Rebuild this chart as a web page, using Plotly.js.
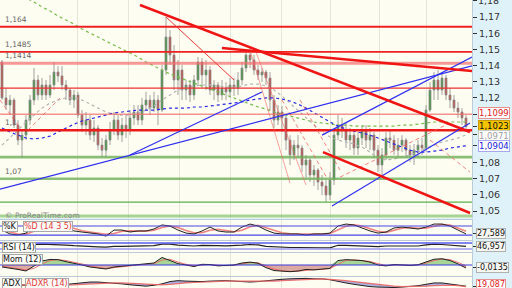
<!DOCTYPE html>
<html><head><meta charset="utf-8">
<script src="https://cdn.plot.ly/plotly-3.0.1.min.js"></script>
<style>html,body{margin:0;padding:0;background:#dff2fa;}#chart{width:512px;height:288px;}</style>
</head><body><div id="chart"></div>
<script>
// ---------- price candles (one per bar) ----------
const openP = [1.1422,1.1200,1.1156,1.1187,1.1032,1.0939,1.0970,1.1063,1.1187,1.1311,
1.1218,1.1280,1.1218,1.1280,1.1360,1.1336,1.1280,1.1249,1.1187,1.1218,
1.1094,1.1032,1.1063,1.0970,1.1014,1.0908,1.0877,1.0939,1.1001,1.1063,
1.0970,1.1032,1.1001,1.1076,1.1113,1.1063,1.1156,1.1187,1.1137,1.1187,
1.1125,1.1373,1.1577,1.1466,1.1311,1.1373,1.1249,1.1280,1.1218,1.1311,
1.1422,1.1342,1.1373,1.1249,1.1280,1.1218,1.1261,1.1237,1.1280,1.1261,
1.1311,1.1385,1.1466,1.1435,1.1373,1.1342,1.1360,1.1323,1.1187,1.1063,
1.1113,1.1076,1.0939,1.0847,1.0908,1.0890,1.0785,1.0816,1.0723,1.0754,
1.0679,1.0655,1.0599,1.0692,1.0970,1.1032,1.1001,1.0939,1.0970,1.0890,
1.0952,1.1001,1.0939,1.0970,1.0877,1.0785,1.0847,1.0952,1.0939,1.0877,
1.0908,1.0939,1.0877,1.0847,1.0877,1.0908,1.0890,1.1125,1.1249,1.1311,
1.1249,1.1323,1.1218,1.1187,1.1137,1.1113,1.1076];
const highP = [1.1435,1.1261,1.1218,1.1200,1.1063,1.1001,1.1094,1.1218,1.1385,1.1342,
1.1323,1.1311,1.1342,1.1422,1.1397,1.1397,1.1311,1.1261,1.1249,1.1237,
1.1125,1.1113,1.1094,1.1063,1.1032,1.0952,1.0970,1.1051,1.1113,1.1094,
1.1076,1.1094,1.1125,1.1156,1.1156,1.1200,1.1237,1.1218,1.1237,1.1218,
1.1404,1.1701,1.1620,1.1527,1.1435,1.1404,1.1311,1.1311,1.1342,1.1453,
1.1447,1.1435,1.1397,1.1311,1.1298,1.1311,1.1298,1.1323,1.1323,1.1360,
1.1422,1.1496,1.1509,1.1466,1.1404,1.1385,1.1373,1.1360,1.1218,1.1156,
1.1150,1.1094,1.0970,1.0939,1.0970,1.0908,1.0847,1.0828,1.0785,1.0766,
1.0723,1.0692,1.0741,1.1014,1.1094,1.1076,1.1051,1.1014,1.1001,1.0989,
1.1032,1.1032,1.1014,1.0989,1.0908,1.0890,1.0989,1.1001,1.0970,1.0952,
1.0970,1.0952,1.0908,1.0915,1.0939,1.0952,1.1156,1.1298,1.1360,1.1373,
1.1360,1.1342,1.1261,1.1218,1.1175,1.1137,1.1094];
const lowP = [1.1187,1.1125,1.1094,1.1014,1.0908,1.0828,1.0939,1.1032,1.1156,1.1187,
1.1187,1.1187,1.1200,1.1249,1.1298,1.1249,1.1187,1.1156,1.1137,1.1076,
1.0989,1.0970,1.0939,1.0927,1.0877,1.0834,1.0828,1.0908,1.0970,1.0939,
1.0927,1.0952,1.0970,1.1032,1.1032,1.1032,1.1125,1.1094,1.1113,1.1032,
1.1113,1.1342,1.1404,1.1249,1.1218,1.1187,1.1187,1.1175,1.1187,1.1280,
1.1261,1.1249,1.1218,1.1187,1.1175,1.1187,1.1187,1.1200,1.1212,1.1218,
1.1280,1.1360,1.1385,1.1342,1.1311,1.1298,1.1280,1.1125,1.1014,1.1032,
1.0989,1.0877,1.0785,1.0816,1.0828,1.0741,1.0704,1.0679,1.0655,1.0630,
1.0599,1.0556,1.0568,1.0661,1.0939,1.0952,1.0890,1.0877,1.0847,1.0847,
1.0908,1.0890,1.0877,1.0828,1.0741,1.0717,1.0816,1.0890,1.0847,1.0828,
1.0865,1.0828,1.0803,1.0785,1.0828,1.0847,1.0865,1.1113,1.1187,1.1187,
1.1218,1.1187,1.1137,1.1113,1.1076,1.1032,1.1001];
const closeP = [1.1200,1.1156,1.1187,1.1032,1.0939,1.0970,1.1063,1.1187,1.1311,1.1218,
1.1280,1.1218,1.1280,1.1360,1.1336,1.1280,1.1249,1.1187,1.1218,1.1094,
1.1032,1.1063,1.0970,1.1014,1.0908,1.0877,1.0939,1.1001,1.1063,1.0970,
1.1032,1.1001,1.1076,1.1113,1.1063,1.1156,1.1187,1.1137,1.1187,1.1125,
1.1373,1.1577,1.1466,1.1311,1.1373,1.1249,1.1280,1.1218,1.1311,1.1422,
1.1342,1.1373,1.1249,1.1280,1.1218,1.1261,1.1237,1.1280,1.1261,1.1311,
1.1385,1.1466,1.1435,1.1373,1.1342,1.1360,1.1323,1.1187,1.1063,1.1113,
1.1076,1.0939,1.0847,1.0908,1.0890,1.0785,1.0816,1.0723,1.0754,1.0679,
1.0655,1.0599,1.0692,1.0970,1.1032,1.1001,1.0939,1.0970,1.0890,1.0952,
1.1001,1.0939,1.0970,1.0877,1.0785,1.0847,1.0952,1.0939,1.0877,1.0908,
1.0939,1.0877,1.0847,1.0877,1.0908,1.0890,1.1125,1.1249,1.1311,1.1249,
1.1323,1.1218,1.1187,1.1137,1.1113,1.1076,1.1023];

// ---------- moving averages (sampled every 2 bars) ----------
const maGreen = [1.1899,1.1874,1.1843,1.1818,1.1794,1.1763,1.1738,1.1707,1.1682,1.1657,
1.1626,1.1602,1.1577,1.1552,1.1527,1.1503,1.1478,1.1453,1.1422,1.1397,
1.1373,1.1348,1.1329,1.1311,1.1292,1.1274,1.1255,1.1237,1.1218,1.1200,
1.1181,1.1162,1.1144,1.1131,1.1113,1.1100,1.1088,1.1076,1.1063,1.1051,
1.1045,1.1038,1.1032,1.1032,1.1026,1.1026,1.1026,1.1026,1.1026,1.1026,
1.1032,1.1032,1.1038,1.1045,1.1051,1.1051,1.1051,1.1051,1.1051];
const maBlue = [1.1014,1.0989,1.0970,1.0952,1.0946,1.0952,1.0964,1.0989,1.1014,1.1038,
1.1057,1.1069,1.1082,1.1094,1.1107,1.1113,1.1119,1.1125,1.1125,1.1125,
1.1131,1.1137,1.1137,1.1137,1.1144,1.1144,1.1150,1.1156,1.1162,1.1168,
1.1175,1.1187,1.1193,1.1200,1.1200,1.1193,1.1181,1.1162,1.1137,1.1107,
1.1076,1.1051,1.1026,1.1008,1.0995,1.0983,1.0970,1.0952,1.0933,1.0915,
1.0896,1.0877,1.0865,1.0865,1.0871,1.0877,1.0890,1.0896,1.0904];
const maGrey = [1.0908,1.0952,1.1001,1.1051,1.1094,1.1137,1.1168,1.1187,1.1200,1.1200,
1.1187,1.1162,1.1137,1.1113,1.1100,1.1094,1.1094,1.1107,1.1125,1.1150,
1.1187,1.1218,1.1249,1.1261,1.1274,1.1280,1.1280,1.1274,1.1267,1.1267,
1.1274,1.1286,1.1286,1.1274,1.1249,1.1212,1.1168,1.1125,1.1076,1.1032,
1.0989,1.0958,1.0939,1.0927,1.0915,1.0896,1.0865,1.0828,1.0816,1.0822,
1.0834,1.0847,1.0865,1.0890,1.0908,1.0927,1.0939,1.0952,1.0971];

// ---------- indicators (sampled every 2 bars) ----------
const stochK = [53,27,20,33,73,80,87,87,67,47,40,33,27,13,53,53,40,47,47,60,87,80,53,33,27,47,73,47,40,40,73,93,80,53,33,27,27,27,20,27,27,33,80,93,87,67,47,33,40,67,73,67,60,73,93,93,80,53,27.589];
const stochD = [60,40,27,25,45,70,82,86,80,62,48,40,33,25,30,45,48,45,46,52,70,80,70,50,35,35,52,58,48,42,52,75,85,70,50,35,28,27,24,24,26,30,52,78,88,80,62,45,38,50,65,70,65,66,80,90,86,68,45];
const rsi = [50,45,40,48,60,62,60,62,56,52,48,46,44,42,48,47,48,50,52,53,62,63,56,52,50,54,55,52,51,52,56,60,57,48,44,42,40,40,38,38,37,38,55,54,52,51,50,46,50,50,50,49,50,58,62,60,56,50,46.957];
const mom = [-0.009,-0.0135,-0.02,-0.027,-0.005,0.018,0.025,0.024,0.015,0.009,0,-0.009,-0.014,-0.018,-0.009,-0.005,-0.003,0.002,0.004,0.009,0.034,0.02,0.006,0,-0.007,0.003,0.002,-0.004,-0.003,0,0.009,0.013,0.008,-0.012,-0.025,-0.028,-0.03,-0.027,-0.02,-0.022,-0.018,-0.015,0.02,0.024,0.022,0.02,0.013,0,-0.004,0.002,0,-0.002,0.001,0.015,0.026,0.028,0.02,0.005,-0.0135];
const momSignal = [-0.005,-0.01,-0.015,-0.022,-0.015,0.005,0.02,0.024,0.02,0.012,0.004,-0.004,-0.011,-0.016,-0.013,-0.007,-0.004,0,0.003,0.006,0.022,0.026,0.013,0.003,-0.003,-0.002,0.002,-0.001,-0.003,-0.001,0.005,0.011,0.01,-0.003,-0.018,-0.026,-0.029,-0.028,-0.023,-0.021,-0.02,-0.016,0.003,0.021,0.023,0.021,0.016,0.006,-0.002,-0.001,0.001,-0.001,0,0.008,0.02,0.027,0.024,0.012,-0.005];
const adx = [24,23,22,22,22,21,21,22,24,26,28,29,29,28,27,25,23,21,20,22,25,30,32,31,30,30,31,32,32,31,30,29,30,32,34,35,36,37,37,36,36,34,30,27,24,21,19,18,17,17,18,19,21,24,27,27,25,22,20];
const adxr = [25,24,24,23,23,22,22,22,22,23,24,25,26,27,27,27,26,25,24,23,23,24,26,27,28,29,30,30,31,31,31,31,30,30,31,32,33,34,35,35,36,35,34,32,30,28,25,23,21,20,19,19,19,20,21,22,22,21,19.087];

// ---------- drawn levels and trendlines (bar index, price) ----------
const redLevels = [1.164, 1.1485, 1.1414, 1.1261, 1.1099, 1.10];
const greenLevels = [1.0834, 1.07, 1.0555, 1.0469];
const levelLabelText = ['1,164', '1,1485', '1,1414', '1,1', '1,07'];
const levelLabelPrice = [1.164, 1.1485, 1.1414, 1.10, 1.07];
const trendRedThick = [[34.5,1.1775,117,1.0989],[55,1.1509,117.5,1.1366],[80.25,1.0865,117,1.0488]];
const trendRedThin = [[41,1.1701,58,1.1311]];
const trendRedLight = [[62,1.1496,72,1.0673],[63.5,1.1484,76,1.0661]];
const trendRedDashed = [[70,1.1187,81.25,1.0704],[74.5,1.1187,84.5,1.0754],[107,1.0939,117,1.0741],[84.5,1.0710,112,1.1045],[-0.5,1.1187,4.5,1.1014],[6.5,1.1001,14.5,1.1200]];
const trendBlue = [[-0.5,1.0636,117.5,1.1398],[32,1.0847,65,1.1237],[80,1.0970,117.5,1.1453],[82.5,1.0531,117,1.1045]];

// ---------- axis ticks and last-value tags ----------
const priceTicks = [1.05,1.06,1.07,1.08,1.12,1.13,1.14,1.15,1.16,1.17];
const priceTickText = ['1,05','1,06','1,07','1,08','1,12','1,13','1,14','1,15','1,16','1,17'];
const topTick = 1.18, topTickText = '1,18';
const tagValues = [1.1099, 1.1023, 1.0971, 1.0904];
const tagText = ['1,1099', '1,1023', '1,0971', '1,0904'];
const gridIdx = [18.75, 31.5, 44.25, 57, 69.75, 82, 94.25, 106];

const FONT = 'DejaVu Sans, Verdana, sans-serif';
const barX = openP.map((_, i) => i);
const indX = stochK.map((_, k) => 2 * k);

const traces = [];
traces.push({type:'scatter', mode:'lines', x:indX, y:maGreen, xaxis:'x', yaxis:'y', line:{color:'rgba(110,185,70,0.95)', width:1.2, dash:'3px,3px'}, hoverinfo:'skip'});
traces.push({type:'scatter', mode:'lines', x:indX, y:maGrey, xaxis:'x', yaxis:'y', line:{color:'#b4b4b4', width:1.2, dash:'3px,3px'}, hoverinfo:'skip'});
traces.push({type:'scatter', mode:'lines', x:indX, y:maBlue, xaxis:'x', yaxis:'y', line:{color:'#2a2ae0', width:1.2, dash:'3px,3px'}, hoverinfo:'skip'});
traces.push({type:'candlestick', x:barX, open:openP, high:highP, low:lowP, close:closeP, xaxis:'x', yaxis:'y',
  increasing:{line:{color:'#8c8c8c', width:0.8}, fillcolor:'#3f9a3f'},
  decreasing:{line:{color:'#8c8c8c', width:0.8}, fillcolor:'#c4514b'}, whiskerwidth:0});
traces.push({type:'scatter', mode:'lines', x:indX, y:stochD, xaxis:'x2', yaxis:'y2', line:{color:'rgba(235,110,110,0.85)', width:1.6}});
traces.push({type:'scatter', mode:'lines', x:indX, y:stochK, xaxis:'x2', yaxis:'y2', line:{color:'#222', width:1}});
traces.push({type:'scatter', mode:'lines', x:indX, y:rsi, xaxis:'x3', yaxis:'y3', line:{color:'#222', width:1.2}});
traces.push({type:'scatter', mode:'lines', x:indX, y:mom.map(v => Math.max(v, 0)), xaxis:'x4', yaxis:'y4', fill:'tozeroy', fillcolor:'rgba(130,195,110,0.7)', line:{width:0, color:'rgba(0,0,0,0)'}});
traces.push({type:'scatter', mode:'lines', x:indX, y:mom.map(v => Math.min(v, 0)), xaxis:'x4', yaxis:'y4', fill:'tozeroy', fillcolor:'rgba(200,115,110,0.6)', line:{width:0, color:'rgba(0,0,0,0)'}});
traces.push({type:'scatter', mode:'lines', x:indX, y:momSignal, xaxis:'x4', yaxis:'y4', line:{color:'rgba(235,100,100,0.9)', width:1}});
traces.push({type:'scatter', mode:'lines', x:indX, y:mom, xaxis:'x4', yaxis:'y4', line:{color:'#222', width:1}});
traces.push({type:'scatter', mode:'lines', x:indX, y:adx, xaxis:'x5', yaxis:'y5', line:{color:'#222', width:1}});
traces.push({type:'scatter', mode:'lines', x:indX, y:adxr, xaxis:'x5', yaxis:'y5', fill:'tonexty', fillcolor:'rgba(110,110,200,0.55)', line:{color:'rgba(235,100,100,0.9)', width:1.2}});

const shapes = [];
const hline = (yref, v, color, width, dash) => shapes.push({type:'line', xref:'paper', yref, x0:0, x1:1, y0:v, y1:v, line:{color, width, dash: dash || 'solid'}});
hline('y2', 80, '#4848e8', 1.2); hline('y2', 20, '#4848e8', 1.2);
hline('y3', 70, '#5a5af0', 1.5); hline('y3', 30, '#9a9af5', 1.5);
hline('y4', 0, '#3a3ae0', 1.2);
const redStyle = [['#ee2020', 2], ['#ee2020', 1.8], ['rgba(240,110,110,0.7)', 3], ['#ee3030', 1.2], ['rgba(240,110,110,0.75)', 1.6], ['#ee1a1a', 2.4]];
redLevels.forEach((v, i) => hline('y', v, redStyle[i][0], redStyle[i][1]));
const greenStyle = [['rgba(110,175,90,0.8)', 2.6], ['rgba(110,175,90,0.8)', 2.6], ['#5cb04c', 1.3], ['rgba(120,190,100,0.65)', 3]];
greenLevels.forEach((v, i) => hline('y', v, greenStyle[i][0], greenStyle[i][1]));
const seg = (arr, color, width, dash) => arr.forEach(([x0, y0, x1, y1]) => shapes.push({type:'line', xref:'x', yref:'y', x0, y0, x1, y1, line:{color, width, dash: dash || 'solid'}}));
seg(trendRedLight, 'rgba(240,100,100,0.6)', 1);
seg(trendRedDashed, 'rgba(240,90,90,0.75)', 1, '4px,3px');
seg(trendBlue, '#3030f0', 1.2);
seg(trendRedThin, '#e83a3a', 1);
seg(trendRedThick, '#f01515', 2.5);

const annotations = [];
levelLabelText.forEach((t, i) => annotations.push({xref:'paper', yref:'y', x:0.006, y:levelLabelPrice[i], xanchor:'left', yanchor:'bottom', yshift:1, text:t, showarrow:false, font:{family:FONT, size:7.5, color:'#666'}}));
annotations.push({xref:'paper', yref:'y', x:0.006, y:1.0473, xanchor:'left', yanchor:'middle', text:'© ProRealTime.com', showarrow:false, font:{family:FONT, size:7.5, color:'#8a8a8a'}});
annotations.push({xref:'paper', yref:'y', x:1.0085, y:topTick, xanchor:'left', yanchor:'middle', text:topTickText, showarrow:false, font:{family:FONT, size:9.5, color:'#333'}});
const tagStyle = [['#e02020','#ffffff','#e89090'], ['#111','#f5c400','#c89a00'], ['#a0a0a0','#ffffff','#c8c8c8'], ['#2020d8','#ffffff','#a8a8f0']];
const tagShift = [1, 1, -1, 0];
tagValues.forEach((v, i) => annotations.push({xref:'paper', yref:'y', x:1.0127, y:v, xanchor:'left', yanchor:'middle', yshift:tagShift[i], text:tagText[i], showarrow:false, bgcolor:tagStyle[i][1], bordercolor:tagStyle[i][2], borderwidth:1, borderpad:0, font:{family:FONT, size:8.5, color:tagStyle[i][0]}}));
const box = (yref, x, text, color) => annotations.push({xref:'paper', yref, x, y:1, xanchor:'left', yanchor:'top', yshift:-1, text, showarrow:false, bgcolor:'#fbfbf8', bordercolor:'#a8a8a8', borderwidth:1, borderpad:0, font:{family:FONT, size:8, color}});
box('y2 domain', 0.004, '%K', '#111'); box('y2 domain', 0.048, '%D (14 3 5)', '#e03a3a');
box('y3 domain', 0.004, 'RSI (14)', '#111');
box('y4 domain', 0.004, 'Mom (12)', '#111');
box('y5 domain', 0.004, 'ADX', '#111'); box('y5 domain', 0.052, 'ADXR (14)', '#e03a3a');
const valTag = (yref, v, text, color, border) => annotations.push({xref:'paper', yref, x:1.0085, y:v, xanchor:'left', yanchor:'middle', text, showarrow:false, bgcolor:'#f6f6f2', bordercolor:border, borderwidth:1, borderpad:0, font:{family:FONT, size:8, color}});
valTag('y2', stochK[stochK.length - 1], '27,589', '#111', '#b0b0b0');
valTag('y3', rsi[rsi.length - 1], '46,957', '#111', '#b0b0b0');
valTag('y4', mom[mom.length - 1], '-0,0135', '#111', '#b0b0b0');
annotations.push({xref:'paper', yref:'y5', x:1.0085, y:adxr[adxr.length - 1], xanchor:'left', yanchor:'middle', yshift:2, text:'19,087', showarrow:false, bgcolor:'#ffffff', bordercolor:'#e89090', borderwidth:1, borderpad:0, font:{family:FONT, size:8, color:'#e02020'}});

const xBase = {range:[-0.5, 117.5], tickvals:gridIdx, showticklabels:false, ticks:'', showgrid:true, gridcolor:'#e6e6d6', gridwidth:1, zeroline:false, fixedrange:true, rangeslider:{visible:false}};
const subX = (anchor) => Object.assign({}, xBase, {anchor, showline:true, mirror:true, linecolor:'#bccbd8'});
const subY = (domain, range, tick) => ({domain, range, side:'right', showgrid:false, zeroline:false, tickvals:[tick], ticktext:[''], ticks:'outside', ticklen:4, tickcolor:'#333', showline:true, mirror:true, linecolor:'#bccbd8', fixedrange:true});

const layout = {
  width:512, height:288, margin:{l:0, r:40, t:0, b:0},
  paper_bgcolor:'#dff2fa', plot_bgcolor:'#fdfdf1', showlegend:false,
  font:{family:FONT, size:9, color:'#333'},
  xaxis: Object.assign({}, xBase, {anchor:'y'}),
  xaxis2: subX('y2'), xaxis3: subX('y3'), xaxis4: subX('y4'), xaxis5: subX('y5'),
  yaxis: {domain:[0.24306, 1], range:[1.0457, 1.1806], side:'right', showgrid:false, zeroline:false,
    tickvals: priceTicks.concat(tagValues, [topTick]), ticktext: priceTickText.concat(tagValues.map(() => ''), ['']),
    ticks:'outside', ticklen:4, tickcolor:'#333', tickfont:{family:FONT, size:9.5, color:'#333'},
    showline:true, linecolor:'#bccbd8', fixedrange:true},
  yaxis2: subY([0.16667, 0.23611], [-13, 120], stochK[stochK.length - 1]),
  yaxis3: subY([0.125, 0.16319], [10, 83.3], rsi[rsi.length - 1]),
  yaxis4: subY([0.04167, 0.12153], [-0.0495, 0.054], mom[mom.length - 1]),
  yaxis5: subY([0, 0.03819], [16, 40], adxr[adxr.length - 1]),
  shapes, annotations
};
Plotly.newPlot('chart', traces, layout, {staticPlot:true, displayModeBar:false});
</script></body></html>
